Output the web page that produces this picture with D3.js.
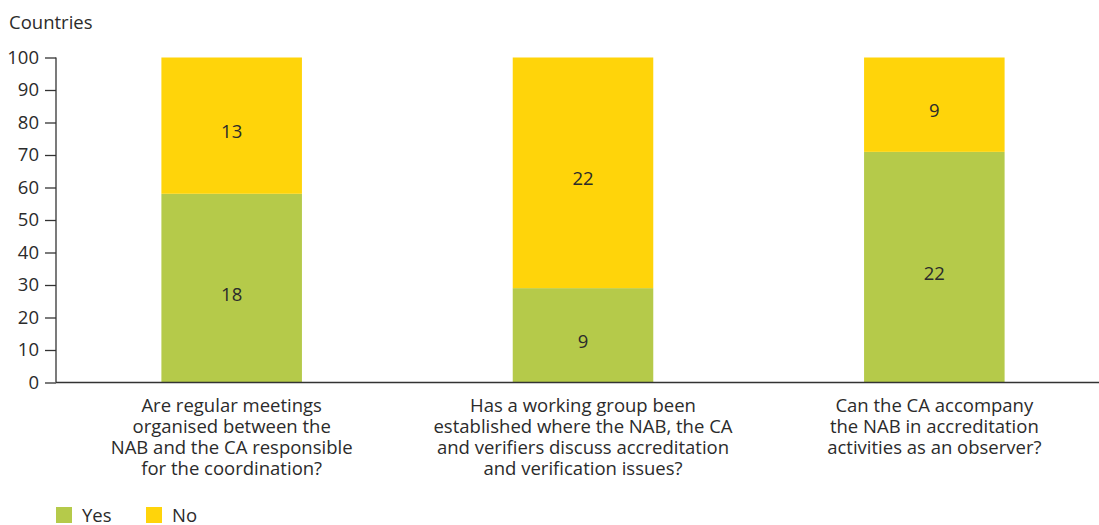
<!DOCTYPE html>
<html>
<head>
<meta charset="utf-8">
<script src="https://cdn.jsdelivr.net/npm/d3@7/dist/d3.min.js"></script>
<style>
  html, body { margin: 0; padding: 0; background: #fff; }
  svg { display: block; font-family: "Open Sans", "Noto Sans", sans-serif; }
</style>
</head>
<body>
<svg id="chart" width="1099" height="525"></svg>
<script>
// Survey questions (one bar each, wrapped label lines)
const categories = [
  ["Are regular meetings", "organised between the", "NAB and the CA responsible", "for the coordination?"],
  ["Has a working group been", "established where the NAB, the CA", "and verifiers discuss accreditation", "and verification issues?"],
  ["Can the CA accompany", "the NAB in accreditation", "activities as an observer?"]
];
// Number of countries answering
const yesCounts = [18, 9, 22];
const noCounts = [13, 22, 9];
const seriesNames = ["Yes", "No"];
const seriesColors = ["#b5ca4a", "#ffd40a"];
const yTicks = [0, 10, 20, 30, 40, 50, 60, 70, 80, 90, 100];
const yTitle = "Countries";

const svg = d3.select("#chart");
const textColor = "#2b2b2b";
const fontSize = 18.5;

const x = d3.scaleBand()
  .domain(d3.range(categories.length))
  .range([56, 1110])
  .paddingInner(0.6)
  .paddingOuter(0.3);

const y = d3.scaleLinear().domain([0, 100]).range([382.5, 57.5]);

// Stack as percentage of respondents
const rows = categories.map((c, i) => {
  const total = yesCounts[i] + noCounts[i];
  return { i, Yes: yesCounts[i] / total * 100, No: noCounts[i] / total * 100,
           counts: { Yes: yesCounts[i], No: noCounts[i] } };
});
const stack = d3.stack().keys(seriesNames)(rows);
const color = d3.scaleOrdinal().domain(seriesNames).range(seriesColors);

const layers = svg.append("g").selectAll("g")
  .data(stack).join("g")
  .attr("fill", d => color(d.key));

layers.selectAll("rect")
  .data(d => d.map(s => ({ s, key: d.key })))
  .join("rect")
  .attr("x", d => x(d.s.data.i))
  .attr("width", x.bandwidth())
  .attr("y", d => y(d.s[1]))
  .attr("height", d => y(d.s[0]) - y(d.s[1]));

// Count labels near segment centres
layers.selectAll("text")
  .data(d => d.map(s => ({ s, key: d.key })))
  .join("text")
  .attr("x", d => x(d.s.data.i) + x.bandwidth() / 2)
  .attr("y", d => y((d.s[0] + d.s[1]) / 2) + 6)
  .attr("dy", "0.35em")
  .attr("text-anchor", "middle")
  .attr("fill", textColor)
  .style("font-size", fontSize + "px")
  .text(d => d.s.data.counts[d.key]);

// Y axis
const yAxis = d3.axisLeft(y).tickValues(yTicks).tickSize(11).tickPadding(6);
const gy = svg.append("g").attr("transform", "translate(56,0)").call(yAxis);
gy.select(".domain").attr("stroke", "#333").attr("stroke-width", 1.3).attr("d", `M0,${y(100)}V${y(0)}`);
gy.selectAll(".tick line").attr("stroke", "#333").attr("stroke-width", 1.3);
gy.selectAll(".tick text").attr("fill", textColor).style("font-size", fontSize + "px")
  .style("font-family", "'Open Sans', sans-serif");

// Baseline
svg.append("line")
  .attr("x1", 56).attr("x2", 1099)
  .attr("y1", y(0)).attr("y2", y(0))
  .attr("stroke", "#333").attr("stroke-width", 1.3);

// Axis title
svg.append("text")
  .attr("x", 9).attr("y", 29)
  .attr("fill", textColor)
  .style("font-size", fontSize + "px")
  .text(yTitle);

// Category labels
const catG = svg.append("g");
categories.forEach((lines, i) => {
  const t = catG.append("text")
    .attr("text-anchor", "middle")
    .attr("fill", textColor)
    .style("font-size", fontSize + "px");
  lines.forEach((ln, k) => {
    t.append("tspan")
      .attr("x", x(i) + x.bandwidth() / 2)
      .attr("y", 411.5 + k * 21)
      .text(ln);
  });
});

// Legend
const legend = svg.append("g").attr("transform", "translate(56,507)");
const legendX = [0, 90];
seriesNames.forEach((name, k) => {
  const g = legend.append("g").attr("transform", `translate(${legendX[k]},0)`);
  g.append("rect").attr("width", 16).attr("height", 16).attr("fill", color(name));
  g.append("text").attr("x", 26).attr("y", 15)
    .attr("fill", textColor).style("font-size", fontSize + "px").text(name);
});
</script>
</body>
</html>
